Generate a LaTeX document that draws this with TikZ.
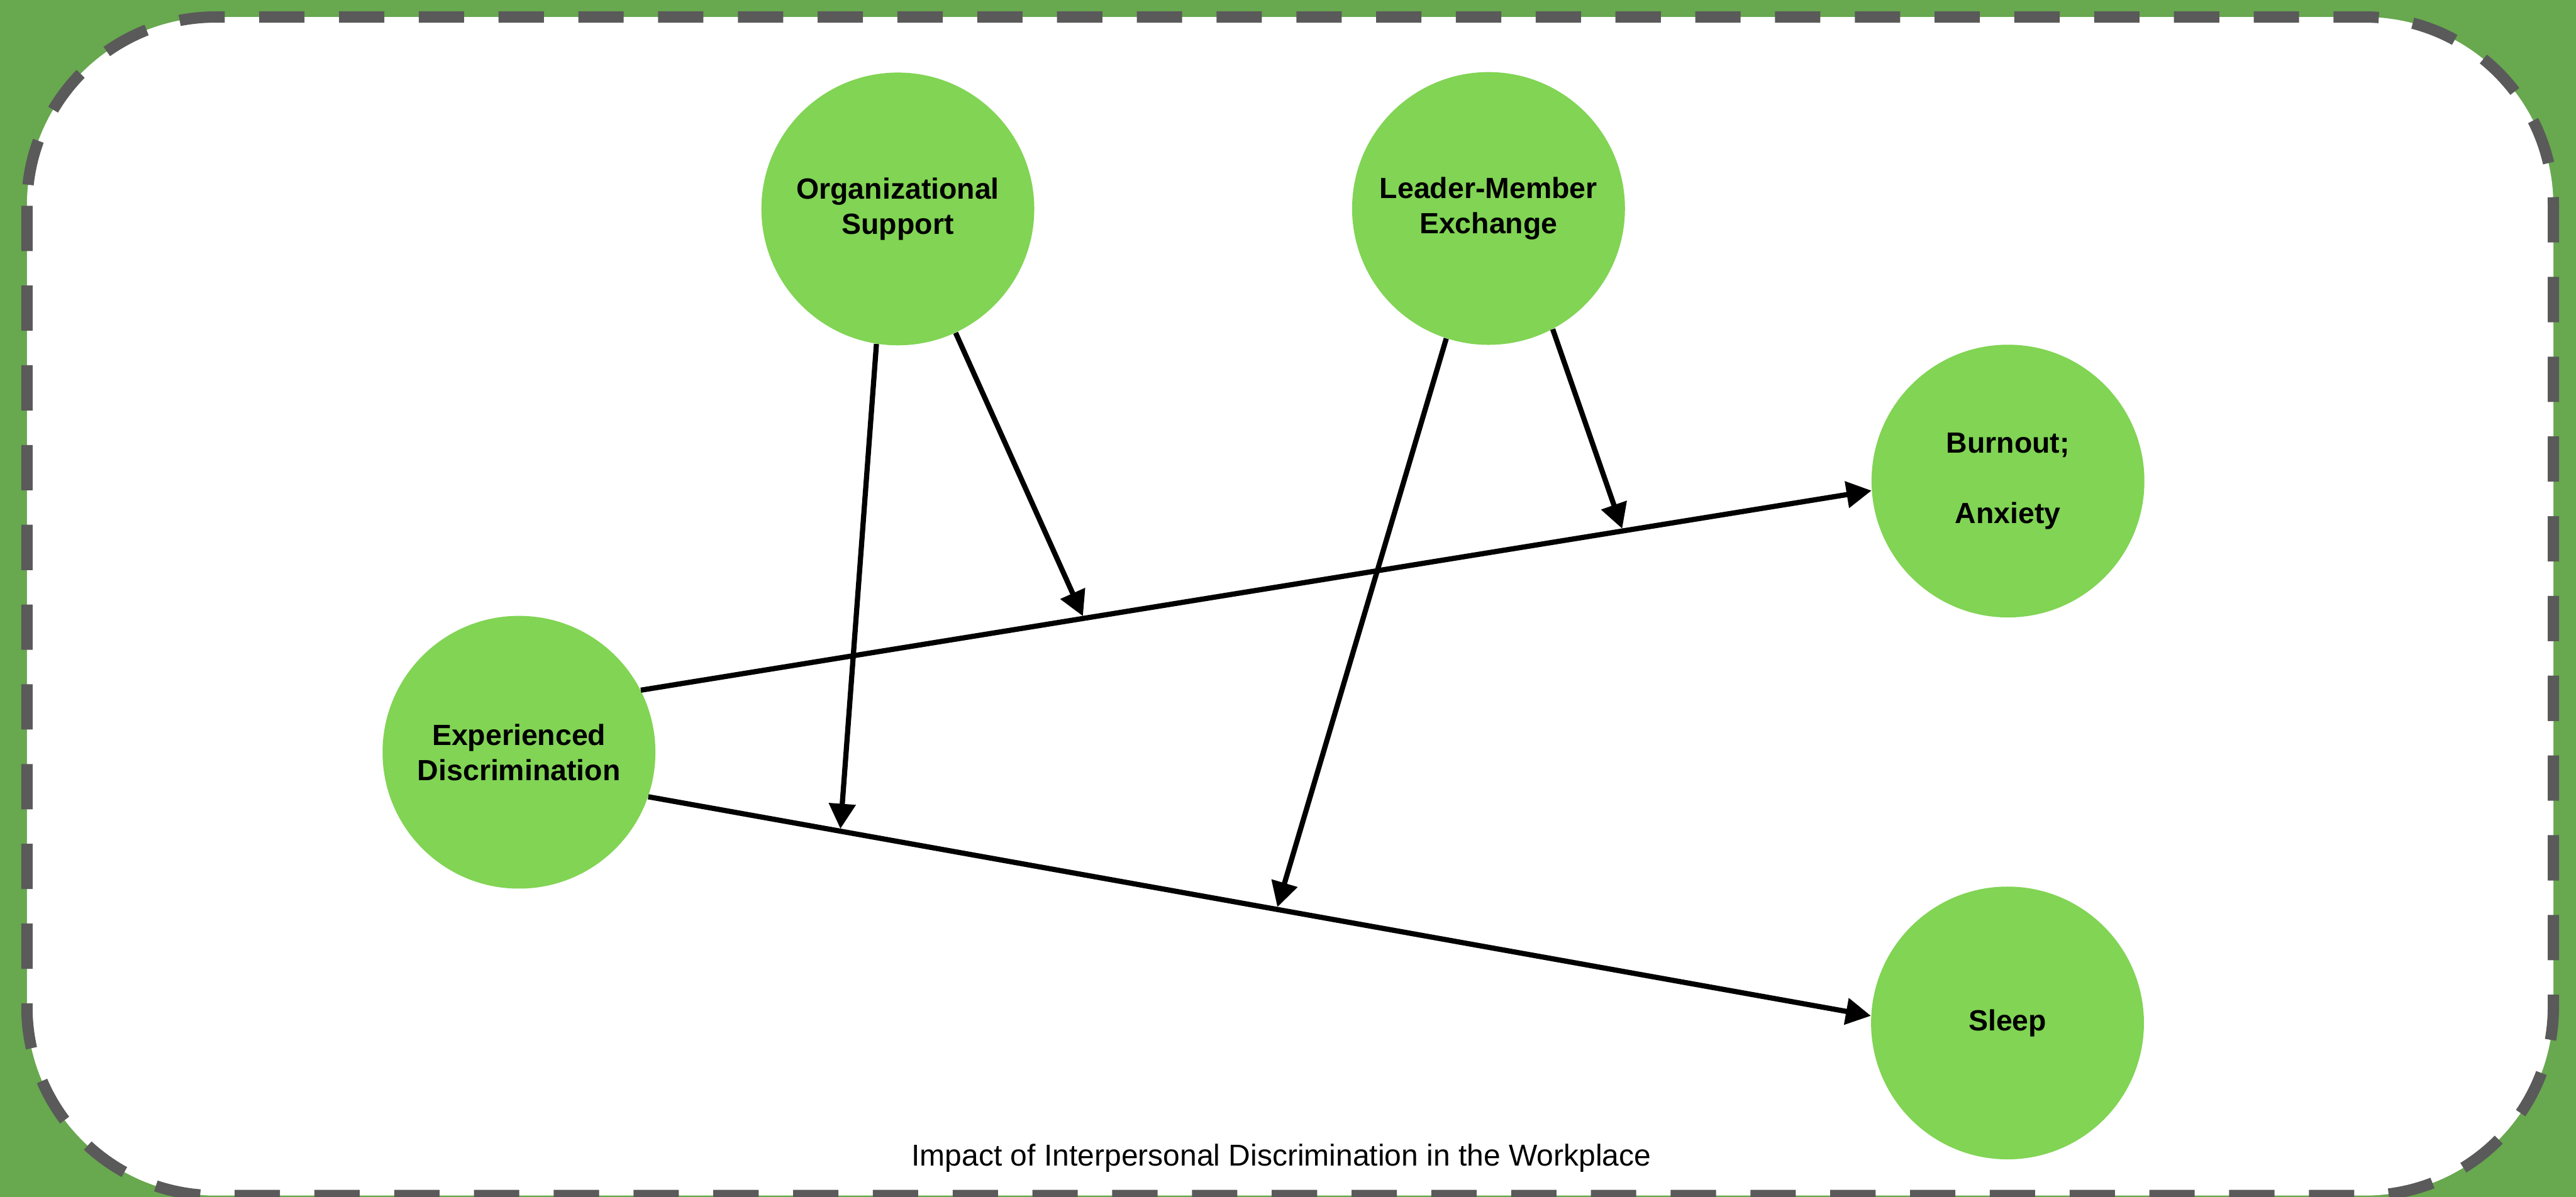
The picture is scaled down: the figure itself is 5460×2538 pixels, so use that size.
\documentclass[tikz,border=0pt]{standalone}
\usepackage{fontspec}
\setmainfont{Liberation Sans}
\usetikzlibrary{arrows.meta}
\definecolor{bggreen}{HTML}{68A84F}
\definecolor{nodegreen}{HTML}{81D454}
\definecolor{dashgrey}{HTML}{5A5A5A}
\begin{document}
\begin{tikzpicture}[x=0.01cm,y=-0.01cm,
  var/.style={circle, fill=nodegreen, minimum size=5.78cm, inner sep=0pt, align=center,
    font=\fontsize{17.6pt}{21.3pt}\selectfont\bfseries},
  link/.style={line width=0.11cm, -{Triangle[length=0.53cm,width=0.55cm]}},
  modlink/.style={link, shorten >=0.05cm}]
\useasboundingbox (0,0) rectangle (5460,2538);
\fill[bggreen] (0,0) rectangle (5460,2538);
\draw[fill=white, draw=dashgrey, line width=0.24cm, dash pattern=on 0.96cm off 0.73cm,
  rounded corners=4cm] (57,36) rectangle (5412,2535);

\node[var] (os) at (1903,443) {Organizational\\Support};
\node[var] (lmx) at (3155,442) {Leader-Member\\Exchange};
\node[var] (bo) at (4256,1020) {Burnout;\\[21.3pt]Anxiety};
\node[var] (ed) at (1100,1595) {Experienced\\Discrimination};
\node[var] (sl) at (4255,2169) {Sleep};
\node[font=\fontsize{18.2pt}{22pt}\selectfont, anchor=base] (title) at (2716,2472)
  {Impact of Interpersonal Discrimination in the Workplace};

\draw[link] (ed.27) -- coordinate[pos=0.360] (m1) coordinate[pos=0.798] (m2) (bo.184);
\draw[link] (ed.-19) -- coordinate[pos=0.157] (m3) coordinate[pos=0.514] (m4) (sl.177);
\draw[modlink] (os.-65) -- (m1);
\draw[modlink] (os.-99) -- (m3);
\draw[modlink] (lmx.-108) -- (m4);
\draw[modlink] (lmx.-62) -- (m2);
\end{tikzpicture}
\end{document}
